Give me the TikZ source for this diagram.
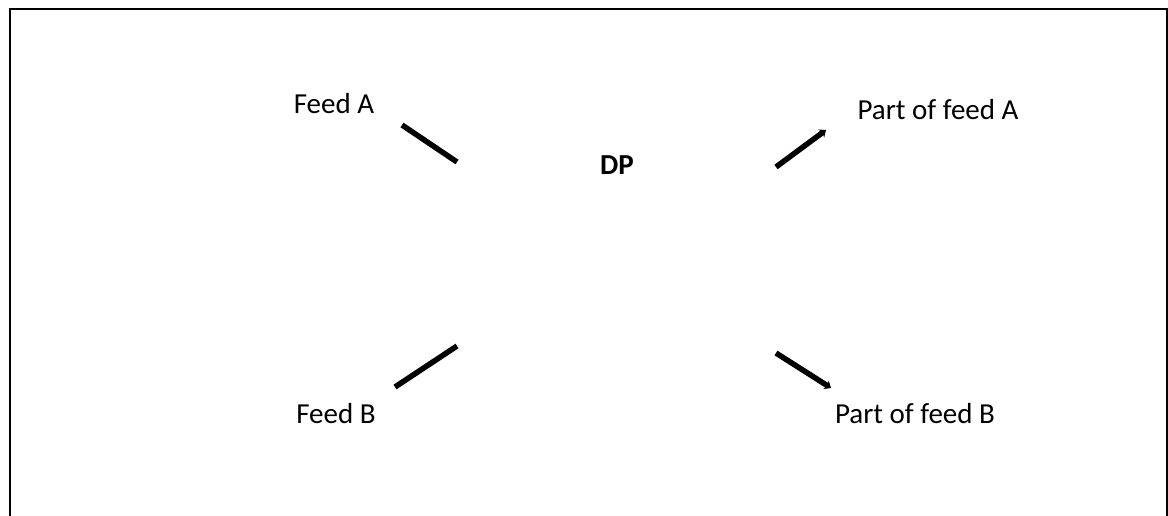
\documentclass[tikz,border=0pt]{standalone}
\usepackage{fontspec}
\setmainfont{Carlito}
\usetikzlibrary{arrows.meta}
\begin{document}
\begin{tikzpicture}[x=1pt,y=-1pt,
  lbl/.style={inner sep=0pt,font=\fontsize{29}{34}\selectfont},
  conn/.style={line width=5.5pt},
  arr/.style={line width=5.5pt,-{Stealth[length=6pt,width=10pt]}},
  frame/.style={line width=2pt}]
\useasboundingbox (0,0) rectangle (1168,515);
\draw[frame] (10,516) -- (10,9) -- (1166.5,9) -- (1166.5,516);
\node[lbl] (fa) at (334,104) {Feed A};
\node[lbl] (pa) at (938,110) {Part of feed A};
\node[lbl,font=\fontsize{29}{34}\selectfont\bfseries] (dp) at (617,165) {DP};
\node[lbl] (fb) at (336,414) {Feed B};
\node[lbl] (pb) at (915,414) {Part of feed B};
\coordinate (a1) at (402,125);
\coordinate (a2) at (457,162);
\coordinate (b1) at (457,346);
\coordinate (b2) at (395,387);
\coordinate (c1) at (776,167);
\coordinate (c2) at (826,130);
\coordinate (d1) at (776,353);
\coordinate (d2) at (831,388);
\draw[conn] (a1) -- (a2);
\draw[conn] (b1) -- (b2);
\draw[arr] (c1) -- (c2);
\draw[arr] (d1) -- (d2);
\end{tikzpicture}
\end{document}
